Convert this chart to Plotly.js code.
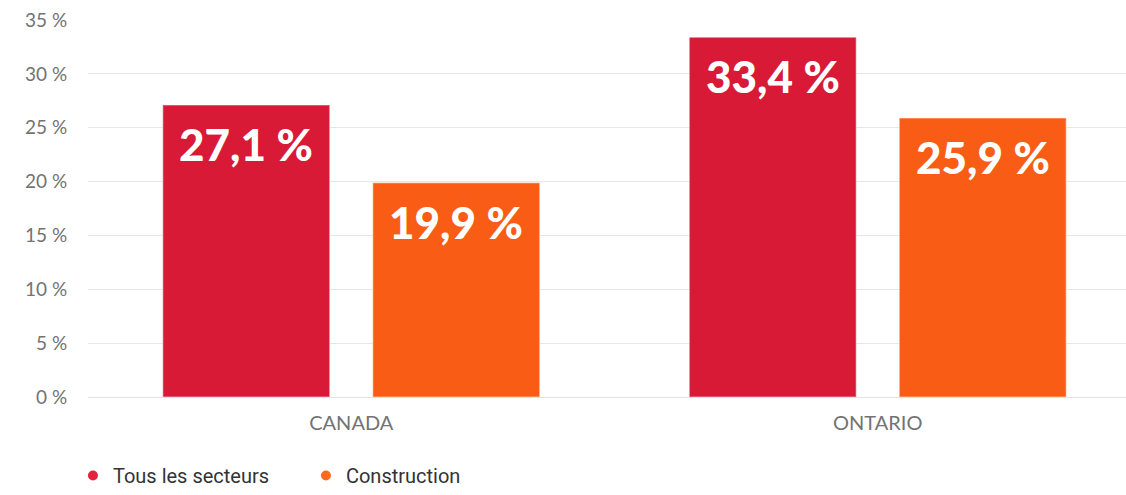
<!DOCTYPE html>
<html>
<head>
<meta charset="utf-8">
<script src="https://cdn.plot.ly/plotly-3.0.1.min.js"></script>
<style>
html,body{margin:0;padding:0;background:#fff;}
#chart{width:1126px;height:495px;}
</style>
</head>
<body>
<div id="chart"></div>
<script>
const categories = ["CANADA", "ONTARIO"];
const seriesNames = ["Tous les secteurs", "Construction"];
const tousLesSecteurs = [27.1, 33.4];
const construction = [19.9, 25.9];
const yTickValues = [0, 5, 10, 15, 20, 25, 30, 35];

const fmt = v => v.toFixed(1).replace('.', ',') + ' %';
const colors = ["#D81A37", "#F85C15"];
const series = [tousLesSecteurs, construction];
const groupOffsetPx = [-105, 105];

const traces = [];
const annotations = [];
series.forEach((vals, i) => {
  traces.push({
    type: 'bar',
    x: categories,
    y: vals,
    name: seriesNames[i],
    showlegend: false,
    marker: {color: colors[i], line: {color: 'rgba(255,255,255,0.35)', width: 1.5}},
    hoverinfo: 'skip'
  });
  vals.forEach((v, j) => {
    annotations.push({
      x: categories[j], y: v, xref: 'x', yref: 'y',
      xshift: groupOffsetPx[i], yshift: -11,
      xanchor: 'center', yanchor: 'top',
      text: fmt(v), showarrow: false,
      font: {family: 'Lato', size: 44, color: '#ffffff', weight: 900}
    });
  });
});
seriesNames.forEach((n, i) => {
  traces.push({
    type: 'scatter', mode: 'markers', x: [null], y: [null], name: n,
    marker: {color: i === 0 ? '#E4223F' : '#FF6A1F', size: 10},
    showlegend: true, hoverinfo: 'skip'
  });
});

const layout = {
  width: 1126, height: 495,
  margin: {l: 88, r: 0, t: 20, b: 98},
  paper_bgcolor: '#ffffff', plot_bgcolor: '#ffffff',
  barmode: 'group',
  bargap: 0.2023,
  bargroupgap: 0.205,
  showlegend: true,
  annotations: annotations,
  legend: {
    orientation: 'h', x: -0.0145, xanchor: 'left',
    yref: 'container', y: 0, yanchor: 'bottom',
    font: {family: 'Roboto', size: 20, color: '#333333'},
    entrywidth: 188, entrywidthmode: 'pixels', itemclick: false
  },
  xaxis: {
    type: 'category', range: [-0.5, 1.4715],
    tickfont: {family: 'Lato', size: 20, color: '#737373'},
    ticks: 'outside', ticklen: 8, tickcolor: 'rgba(0,0,0,0)',
    showgrid: false, showline: true, linecolor: '#e3e3e3', linewidth: 1,
    fixedrange: true
  },
  yaxis: {
    range: [0, 35], tickvals: yTickValues, ticktext: yTickValues.map(v => v + ' %'),
    tickfont: {family: 'Lato', size: 19, color: '#737373'},
    ticks: 'outside', ticklen: 16, tickcolor: 'rgba(0,0,0,0)',
    showgrid: true, gridcolor: '#e6e6e6', gridwidth: 1,
    zeroline: false, fixedrange: true
  }
};

Plotly.newPlot('chart', traces, layout, {displayModeBar: false, staticPlot: true});
</script>
</body>
</html>
